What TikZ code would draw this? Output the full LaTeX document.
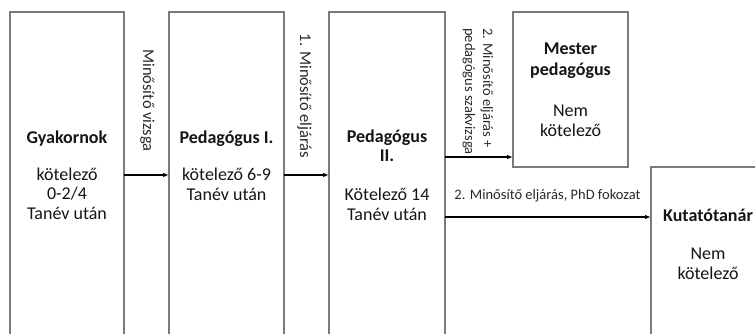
\documentclass[tikz,border=0pt]{standalone}
\usepackage{fontspec}
\setmainfont{Carlito}
\usetikzlibrary{arrows.meta}
\definecolor{boxgray}{HTML}{7A7A7A}
\definecolor{labgray}{HTML}{2A2A2A}
\definecolor{txt}{HTML}{151515}
\begin{document}
\begin{tikzpicture}[x=1pt,y=-1pt,
  box/.style={draw=boxgray, line width=1.1pt, inner sep=0pt, outer sep=0pt, anchor=north west},
  btext/.style={align=center, anchor=base, inner sep=0pt, text=txt, font=\fontsize{18}{19.5}\selectfont},
  vlab/.style={rotate=-90, inner sep=0pt, text=labgray, font=\fontsize{16.5}{18}\selectfont},
  slab/.style={rotate=-90, inner sep=0pt, text=labgray, align=left, font=\fontsize{14.5}{18}\selectfont},
  arr/.style={-{Latex[length=6pt,width=4.5pt]}, line width=1.1pt, black}]
\clip (0,0) rectangle (755,334);
\fill[white] (0,0) rectangle (755,334);
% boxes
\node[box, minimum width=114pt, minimum height=340pt] (b1) at (10,12) {};
\node[box, minimum width=115pt, minimum height=340pt] (b2) at (169,12) {};
\node[box, minimum width=116pt, minimum height=340pt] (b3) at (329,12) {};
\node[box, minimum width=115pt, minimum height=155pt] (b4) at (513,12) {};
\node[box, minimum width=115pt, minimum height=180pt] (b5) at (651,167) {};
% box texts (anchor = baseline of the last line)
\node[btext] (t1) at (67,219) {\textbf{Gyakornok}\\[17.5pt]kötelező\\0-2/4\\Tanév után};
\node[btext] (t2) at (226.5,200) {\textbf{Pedagógus I.}\\[17.5pt]kötelező 6-9\\Tanév után};
\node[btext] (t3) at (387,220) {\textbf{Pedagógus}\\\textbf{II.}\\[19.5pt]Kötelező 14\\Tanév után};
\node[btext, font=\fontsize{18}{20.5}\selectfont] (t4) at (570.5,137) {\textbf{Mester}\\\textbf{pedagógus}\\[20.5pt]Nem\\kötelező};
\node[btext] (t5) at (708,279) {\textbf{Kutatótanár}\\[19pt]Nem\\kötelező};
% connector labels
\node[vlab, anchor=base] (l1) at (143,100.5) {Minősítő vizsga};
\node[vlab, anchor=base] (l2) at (300,96) {1. Minősítő eljárás};
\node[slab, anchor=base west] (l3) at (465,28) {2. Minősítő eljárás +\\pedagógus szakvizsga};
\node[inner sep=0pt, anchor=base, text=labgray, font=\fontsize{14.5}{18}\selectfont] (l4) at (547.5,199) {2. Minősítő eljárás, PhD fokozat};
% arrows
\draw[arr] (b1.east |- 0,175) -- (b2.west |- 0,175);
\draw[arr] (b2.east |- 0,175) -- (b3.west |- 0,175);
\draw[arr] (b3.east |- 0,157) -- (b4.west |- 0,157);
\draw[arr] (b3.east |- 0,217) -- (b5.west |- 0,217);
\end{tikzpicture}
\end{document}
